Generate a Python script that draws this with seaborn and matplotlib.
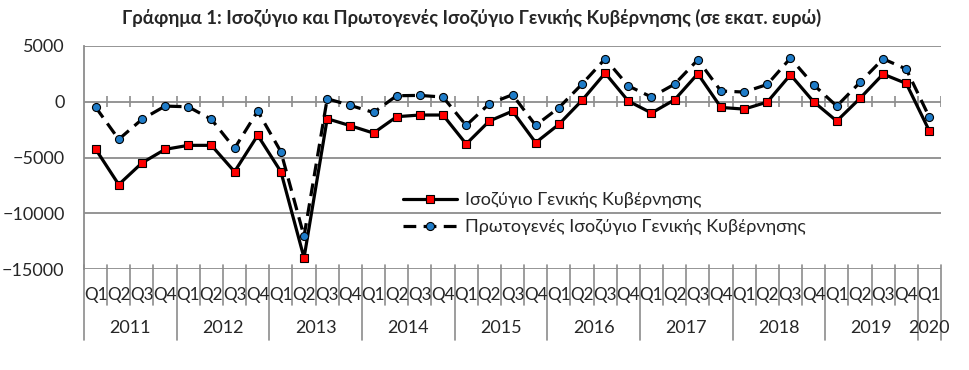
import pandas as pd
import matplotlib
matplotlib.use('Agg')
import matplotlib.pyplot as plt
import matplotlib.transforms as mtransforms
import seaborn as sns

years = ['2011', '2012', '2013', '2014', '2015', '2016', '2017', '2018', '2019', '2020']
quarters = ['Q1', 'Q2', 'Q3', 'Q4'] * 9 + ['Q1']

# Ισοζύγιο Γενικής Κυβέρνησης (εκατ. ευρώ)
balance = [-4240, -7430, -5490, -4270,
           -3910, -3910, -6270, -3010,
           -6270, -14000, -1520, -2150,
           -2810, -1340, -1190, -1190,
           -3790, -1730, -840, -3670,
           -2030, 120, 2570, 60,
           -1010, 180, 2510, -510,
           -660, -30, 2420, 0,
           -1730, 300, 2480, 1640,
           -2630]

# Πρωτογενές Ισοζύγιο Γενικής Κυβέρνησης
primary = [-480, -3370, -1580, -390,
           -450, -1580, -4180, -840,
           -4480, -12060, 270, -330,
           -960, 540, 570, 420,
           -2120, -180, 630, -2120,
           -540, 1580, 3850, 1420,
           420, 1580, 3760, 960,
           870, 1550, 3910, 1520,
           -390, 1730, 3850, 2930,
           -1400]

label_bal = 'Ισοζύγιο Γενικής Κυβέρνησης'
label_pri = 'Πρωτογενές Ισοζύγιο Γενικής Κυβέρνησης'

df = pd.DataFrame({'pos': range(len(quarters)), 'quarter': quarters,
                   'balance': balance, 'primary': primary})

sns.set_style('white')
plt.rcParams['font.family'] = ['Lato', 'Open Sans', 'DejaVu Sans']

grid_c = '#8c8c8c'

fig = plt.figure(figsize=(9.7, 3.7), dpi=100)
ax = fig.add_axes([84 / 970, 1 - 269 / 370, 857 / 970, 223 / 370])

for y in [5000, 0, -5000, -10000, -15000]:
    ax.axhline(y, color=grid_c, lw=1.3, zorder=0)

sns.lineplot(data=df, x='pos', y='balance', ax=ax, color='black', lw=2.3,
             marker='s', markersize=5.8, markerfacecolor='#ff0000',
             markeredgecolor='black', markeredgewidth=0.8, label=label_bal, zorder=3)
sns.lineplot(data=df, x='pos', y='primary', ax=ax, color='black', lw=2.3,
             linestyle=(0, (4, 2.3)), marker='o', markersize=5.8,
             markerfacecolor='#1f7cc8', markeredgecolor='black',
             markeredgewidth=0.8, label=label_pri, zorder=3)

n = len(quarters)
ax.set_xlim(-0.5, n - 0.5)
ax.set_ylim(-15000, 5000)
ax.set_yticks([5000, 0, -5000, -10000, -15000])
ax.tick_params(axis='y', labelsize=13, length=6, color=grid_c, width=1.2, pad=8)
ax.set_xticks([])
ax.set_xlabel('')
ax.set_ylabel('')
for s in ['top', 'right', 'bottom']:
    ax.spines[s].set_visible(False)
ax.spines['left'].set_color(grid_c)
ax.spines['left'].set_linewidth(1.3)

# tick marks crossing the zero axis
bounds = [i - 0.5 for i in range(n + 1)]
ax.vlines(bounds[1:], -450, 500, color=grid_c, lw=1.2, zorder=1)

# multi-level category axis below the plot
tr = mtransforms.blended_transform_factory(ax.transData, ax.transAxes)
for i, b in enumerate(bounds):
    is_year = (i % 4 == 0) or i == n
    low = -0.318 if is_year else -0.161
    ax.plot([b, b], [0.018, low], transform=tr, color=grid_c, lw=1.2, clip_on=False)
for i, q in enumerate(quarters):
    ax.text(i, -0.117, q, transform=tr, ha='center', va='center', fontsize=12.3)
for j, yr in enumerate(years):
    start = 4 * j
    end = min(4 * j + 3, n - 1)
    ax.text((start + end) / 2, -0.265, yr, transform=tr, ha='center',
            va='center', fontsize=13)

leg = ax.legend(loc='upper left', bbox_to_anchor=(0.362, 0.385), frameon=False,
                fontsize=13, handlelength=3.0, borderpad=0, labelspacing=0.6,
                handletextpad=0.4)

fig.text(0.486, 0.951, 'Γράφημα 1: Ισοζύγιο και Πρωτογενές Ισοζύγιο Γενικής Κυβέρνησης (σε εκατ. ευρώ)',
         ha='center', va='center', fontsize=13.3, fontweight='bold')

fig.savefig('out.png', dpi=100)
